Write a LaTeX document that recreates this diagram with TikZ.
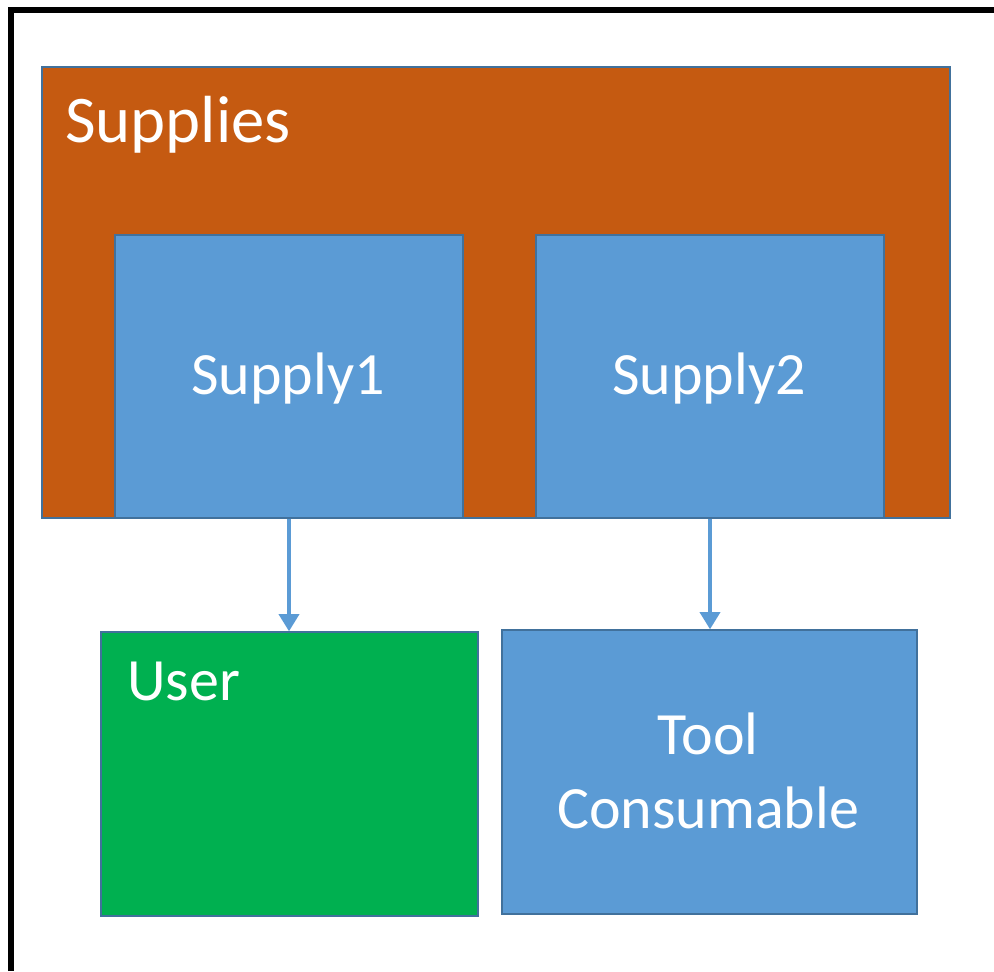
\documentclass[tikz,border=0pt]{standalone}
\usepackage{fontspec}
\setmainfont{Carlito}
\usetikzlibrary{arrows.meta}

\definecolor{rust}{HTML}{C55A11}
\definecolor{sky}{HTML}{5B9BD5}
\definecolor{leaf}{HTML}{00B050}
\definecolor{edge}{HTML}{41719C}

\tikzset{
    box/.style={draw=edge, line width=1pt, rectangle, inner sep=0pt, text=white},
    caption/.style={text=white, inner sep=0pt, font=\fontsize{45}{55.5}\selectfont},
    flow/.style={draw=sky, line width=3pt, -{Triangle[length=13pt,width=15pt]}}
}

\begin{document}
\begin{tikzpicture}[x=0.75pt, y=-0.75pt]
    \useasboundingbox (0,0) rectangle (994,971);
    \fill[white] (0,0) rectangle (994,971);
    \draw[line width=4.5pt] (11,971) -- (11,10) -- (994,10);

    \node[box, fill=rust, minimum width=681pt, minimum height=338.25pt] (supplies) at (496,292.5) {};
    \node[caption, anchor=base west, font=\fontsize{50}{60}\selectfont] (supplieslabel) at (65,142) {Supplies};

    \foreach \name/\x/\txt in {s1/289/Supply1, s2/710/Supply2}{
    \node[box, fill=sky, minimum width=261pt, minimum height=212.25pt] (\name) at (\x,376.5) {};
    \node[caption] (\name label) at (\x-1,378) {\txt};
    }

    \node[box, fill=leaf, minimum width=282.75pt, minimum height=213pt] (user) at (289.5,774) {};
    \node[caption, anchor=base west] (userlabel) at (127,700) {User};

    \node[box, fill=sky, minimum width=311.25pt, minimum height=213pt] (tool) at (709.5,772) {};
    \node[caption, align=center] (toollabel) at (708,771) {Tool\\Consumable};

    \draw[flow] (s1.south) -- (s1.south |- user.north);
    \draw[flow] (s2.south) -- (s2.south |- tool.north);
\end{tikzpicture}
\end{document}
